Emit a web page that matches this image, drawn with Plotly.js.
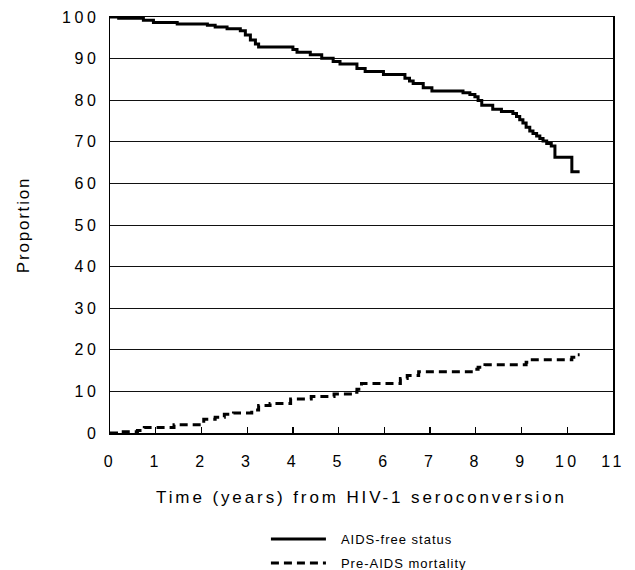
<!DOCTYPE html>
<html>
<head>
<meta charset="utf-8">
<script src="https://cdn.plot.ly/plotly-3.0.1.min.js"></script>
<style>
  html, body { margin: 0; padding: 0; background: #fff; }
  #chart { width: 635px; height: 570px; }
  .xtick text, .ytick text { letter-spacing: 3.5px; }
  .xtitle { letter-spacing: 2.9px; }
  .ytitle { letter-spacing: 1.8px; }
  .legendtext { letter-spacing: 1px; transform: translateX(10px); }
  .legend .scrollbox { clip-path: none !important; }
</style>
</head>
<body>
<div id="chart"></div>
<script>
// AIDS-free status (Kaplan-Meier, %)
const aidsFreeX = [0, 0.19, 0.73, 0.95, 1.47, 2.13, 2.30, 2.56, 2.85, 2.96, 3.07, 3.18, 3.25, 4.00, 4.09, 4.38, 4.63, 4.88, 5.03, 5.40, 5.58, 5.98, 6.45, 6.55, 6.63, 6.85, 7.04, 7.72, 7.87, 7.98, 8.05, 8.13, 8.37, 8.56, 8.81, 8.89, 8.96, 9.03, 9.10, 9.18, 9.25, 9.33, 9.40, 9.47, 9.55, 9.65, 9.73, 10.10, 10.27];
const aidsFreeY = [100, 99.7, 99.2, 98.7, 98.3, 98.0, 97.6, 97.2, 96.7, 95.7, 94.5, 93.5, 92.8, 92.2, 91.5, 90.9, 90.1, 89.3, 88.7, 87.6, 86.9, 86.2, 85.3, 84.6, 84.0, 83.0, 82.2, 81.8, 81.4, 80.8, 79.9, 78.8, 77.8, 77.3, 76.8, 76.1, 75.3, 74.5, 73.5, 72.6, 72.0, 71.4, 70.8, 70.2, 69.6, 69.0, 66.3, 62.8, 62.8];

// Pre-AIDS mortality (%)
const mortalityX = [0, 0.19, 0.60, 0.75, 1.40, 2.05, 2.30, 2.50, 2.70, 3.10, 3.25, 3.50, 3.95, 4.40, 4.90, 5.30, 5.40, 5.50, 6.35, 6.50, 6.75, 7.90, 8.05, 8.20, 9.10, 9.20, 10.10, 10.20, 10.27];
const mortalityY = [0, 0.3, 0.6, 1.3, 2.0, 3.3, 3.8, 4.5, 4.8, 5.5, 6.6, 7.1, 8.2, 8.8, 9.4, 9.8, 10.5, 11.9, 13.1, 13.8, 14.7, 15.3, 15.8, 16.4, 17.0, 17.6, 18.2, 18.8, 18.8];

const seriesNames = ["AIDS-free status", "Pre-AIDS mortality"];
const xTickVals = [0, 1, 2, 3, 4, 5, 6, 7, 8, 9, 10, 11];
const yTickVals = [0, 10, 20, 30, 40, 50, 60, 70, 80, 90, 100];
const xTitle = "Time (years) from HIV-1 seroconversion";
const yTitle = "Proportion";

const FONT = "Liberation Sans, Arial, Helvetica, sans-serif";

const traces = [
  {
    x: aidsFreeX, y: aidsFreeY, name: seriesNames[0], legendgroup: "a",
    type: "scatter", mode: "lines",
    line: { shape: "hv", color: "#000", width: 3 }
  },
  {
    x: mortalityX, y: mortalityY, name: seriesNames[1], legendgroup: "b",
    type: "scatter", mode: "lines",
    line: { shape: "hv", color: "#000", width: 3, dash: "8px,5px" }
  }
];

const layout = {
  width: 635, height: 570,
  margin: { l: 110, r: 22, t: 17, b: 137, autoexpand: false },
  paper_bgcolor: "#fff", plot_bgcolor: "#fff",
  font: { family: FONT, color: "#000", size: 15 },
  showlegend: true,
  legend: {
    x: 0.31, xanchor: "left", y: -0.219, yanchor: "top",
    orientation: "v", traceorder: "grouped", tracegroupgap: 4,
    font: { family: FONT, size: 13, color: "#000" },
    itemwidth: 55,
    bgcolor: "rgba(0,0,0,0)", borderwidth: 0
  },
  xaxis: {
    automargin: false,
    range: [0, 11], tickmode: "array", tickvals: xTickVals, tickangle: 0,
    ticks: "inside", ticklen: 6, tickwidth: 1.2, tickcolor: "#000",
    showline: true, linecolor: "#000", linewidth: 1.5, mirror: true,
    showgrid: false, zeroline: false,
    tickfont: { family: FONT, size: 16, color: "#000" },
    ticklabelstandoff: 13,
    title: { text: xTitle, font: { family: FONT, size: 17, color: "#000" }, standoff: 22 }
  },
  yaxis: {
    automargin: false,
    range: [0, 100], tickmode: "array", tickvals: yTickVals, tickangle: 0,
    ticks: "", showline: true, linecolor: "#000", linewidth: 1.5, mirror: true,
    showgrid: true, gridcolor: "#111", gridwidth: 1,
    zeroline: false,
    tickfont: { family: FONT, size: 16, color: "#000" },
    ticklabelstandoff: 6,
    title: { text: yTitle, font: { family: FONT, size: 17, color: "#000" }, standoff: 28 }
  }
};

Plotly.newPlot("chart", traces, layout, { displayModeBar: false, staticPlot: true });
</script>
</body>
</html>
